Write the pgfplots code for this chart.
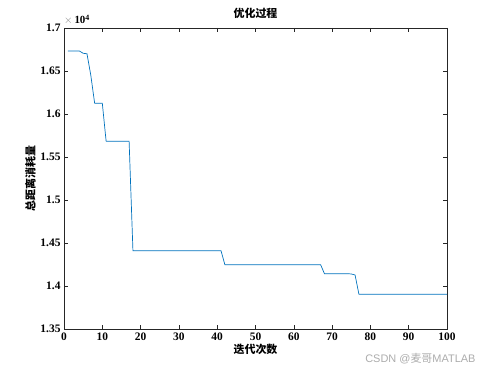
\documentclass[border=0pt]{standalone}
\usepackage{fontspec}
\setmainfont{Liberation Serif}
\setsansfont{Liberation Sans}
\newfontfamily\cjk{Noto Sans CJK SC}
\usepackage{pgfplots}
\pgfplotsset{compat=1.18}
\definecolor{mblue}{rgb}{0,0.447,0.741}
\definecolor{axgray}{rgb}{0.15,0.15,0.15}
\begin{document}
\begin{tikzpicture}
\useasboundingbox (-64bp,-42bp) rectangle (430bp,329bp);
\begin{axis}[
  at={(0,0)}, anchor=south west,
  scale only axis, width=383bp, height=301bp,
  xmin=0, xmax=100, ymin=13500, ymax=17000,
  xtick={0,10,...,100},
  ytick={13500,14000,14500,15000,15500,16000,16500,17000},
  scaled y ticks=base 10:-4,
  ytick scale label code/.code={},
  yticklabel style={/pgf/number format/fixed,/pgf/number format/precision=2},
  tick align=inside, tick pos=both,
  major tick length=4bp,
  axis line style={axgray, line width=0.6pt},
  every tick/.style={axgray, line width=0.5pt},
  tick label style={font=\fontsize{11.5}{12}\selectfont\bfseries, text=black},
  /pgf/number format/assume math mode=true,
  title={\cjk\bfseries 优化过程},
  title style={font=\fontsize{11}{12}\selectfont, at={(0.5,1)}, yshift=0bp},
  xlabel={\cjk\bfseries 迭代次数},
  xlabel style={font=\fontsize{11}{12}\selectfont, yshift=3bp},
  ylabel={\cjk\bfseries 总距离消耗量},
  ylabel style={font=\fontsize{11}{12}\selectfont, yshift=-2bp},
  clip=false,
]
\addplot[mblue, line width=0.7pt] coordinates {
(1,16733)(2,16733)(3,16733)(4,16733)(5,16706)(6,16700)(7,16450)(8,16125)(9,16125)(10,16125)
(11,15683)(12,15683)(13,15683)(14,15683)(15,15683)(16,15683)(17,15683)
(18,14410)(19,14410)(20,14410)(25,14410)(30,14410)(35,14410)(40,14410)(41,14410)
(42,14248)(45,14248)(50,14248)(55,14248)(60,14248)(65,14248)(67,14248)
(68,14143)(70,14143)(74,14143)(75,14140)(76,14128)
(77,13905)(80,13905)(85,13905)(90,13905)(95,13905)(100,13905)
};
\node[anchor=south west, inner sep=0pt, font=\fontsize{11}{12}\selectfont] at (rel axis cs:0,1.01)
  {\textcolor{gray}{$\times$}\,\textbf{10}\raisebox{0.7ex}{\fontsize{8}{9}\selectfont\textbf{4}}};
\end{axis}
\node[anchor=east, text=gray!65, font=\fontsize{11}{12}\selectfont\sffamily] at (415bp,-30bp) {CSDN @{\cjk 麦哥}MATLAB};
\end{tikzpicture}
\end{document}
